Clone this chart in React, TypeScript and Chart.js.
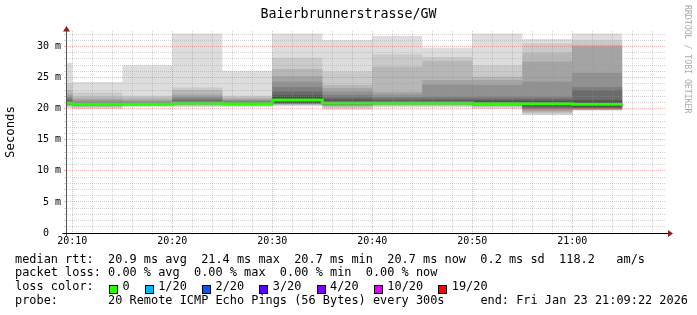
import React, { useEffect, useRef } from 'react';
import { Chart, registerables } from 'chart.js';

Chart.register(...registerables);

// ---------- texts ----------
const TITLE = 'Baierbrunnerstrasse/GW';
const Y_TITLE = 'Seconds';
const WATERMARK = 'RRDTOOL / TOBI OETIKER';

// ---------- time axis ----------
const windowStart = '20:09:22';
const windowEnd = '21:09:22';
const binStarts = ['20:09:22', '20:10', '20:15', '20:20', '20:25', '20:30', '20:35', '20:40', '20:45', '20:50', '20:55', '21:00'];
const lastBinEnd = '21:05';
const xTickLabels = ['20:10', '20:20', '20:30', '20:40', '20:50', '21:00'];

// ---------- sorted RTTs (ms) of the 20 pings in each 5-minute bin ----------
const p2009 = [20.1, 20.3, 20.45, 20.55, 20.62, 20.68, 20.72, 20.76, 20.8, 20.85, 21.0, 21.1, 21.25, 21.45, 21.7, 22.0, 22.4, 23.0, 24.1, 27.4];
const p2010 = [19.9, 20.15, 20.3, 20.4, 20.5, 20.55, 20.6, 20.64, 20.67, 20.69, 20.72, 20.76, 20.82, 20.9, 21.05, 21.3, 21.6, 21.95, 22.6, 24.3];
const p2015 = [20.25, 20.4, 20.5, 20.55, 20.6, 20.63, 20.66, 20.68, 20.69, 20.7, 20.72, 20.76, 20.82, 20.9, 21.0, 21.2, 21.45, 21.8, 22.1, 27.0];
const p2020 = [20.25, 20.4, 20.5, 20.6, 20.7, 20.76, 20.8, 20.84, 20.87, 20.89, 20.93, 21.0, 21.2, 21.4, 21.7, 21.95, 22.3, 23.0, 23.4, 32.1];
const p2025 = [20.25, 20.4, 20.5, 20.55, 20.62, 20.67, 20.7, 20.74, 20.77, 20.79, 20.83, 20.88, 20.95, 21.05, 21.2, 21.4, 21.6, 21.8, 22.1, 26.1];
const p2030 = [20.4, 20.55, 20.65, 20.72, 20.78, 20.83, 20.87, 20.9, 21.0, 21.2, 21.6, 21.85, 22.2, 22.75, 23.45, 24.35, 25.2, 26.4, 28.2, 32.1];
const p2035 = [19.8, 20.1, 20.3, 20.45, 20.55, 20.65, 20.72, 20.78, 20.83, 20.88, 21.0, 21.25, 21.5, 21.8, 22.2, 22.75, 23.3, 23.8, 26.0, 31.05];
const p2040 = [20.2, 20.4, 20.5, 20.6, 20.68, 20.74, 20.79, 20.83, 20.86, 20.88, 20.95, 21.1, 21.3, 21.6, 21.9, 22.3, 22.7, 26.76, 28.75, 31.7];
const p2045 = [20.2, 20.4, 20.5, 20.6, 20.68, 20.74, 20.79, 20.83, 20.86, 20.88, 20.95, 21.15, 21.35, 21.6, 21.95, 23.9, 24.6, 27.7, 28.3, 29.8];
const p2050 = [19.9, 20.2, 20.35, 20.45, 20.55, 20.62, 20.68, 20.73, 20.76, 20.78, 20.85, 21.1, 21.35, 21.6, 21.95, 23.8, 24.6, 25.15, 27.0, 32.1];
const p2055 = [19.0, 19.2, 19.4, 19.6, 19.8, 20.0, 20.15, 20.35, 20.55, 20.7, 20.95, 21.1, 21.3, 21.6, 21.95, 24.35, 27.6, 29.0, 30.5, 31.2];
const p2100 = [19.7, 19.75, 19.8, 19.85, 19.9, 20.0, 20.1, 20.25, 20.4, 20.55, 20.85, 21.1, 21.4, 23.0, 23.5, 25.8, 30.0, 30.3, 31.0, 32.1];
const binPings = [p2009, p2010, p2015, p2020, p2025, p2030, p2035, p2040, p2045, p2050, p2055, p2100];

// median RTT (ms) per bin
const medianRtt = [20.9, 20.7, 20.7, 20.9, 20.8, 21.4, 20.9, 20.9, 20.9, 20.8, 20.8, 20.7];

// y axis
const yMax = 32.5;
const yLabelStep = 5;

// ---------- legend ----------
const legendMedian = 'median rtt:  20.9 ms avg  21.4 ms max  20.7 ms min  20.7 ms now  0.2 ms sd  118.2   am/s';
const legendLoss = 'packet loss: 0.00 % avg  0.00 % max  0.00 % min  0.00 % now';
const legendLossTitle = 'loss color:';
const lossLabels = ['0', '1/20', '2/20', '3/20', '4/20', '10/20', '19/20'];
const lossColors = ['#26ff00', '#00b8ff', '#0059ff', '#5e00ff', '#7e00ff', '#dd00ff', '#ff0000'];
const legendProbe = 'probe:       20 Remote ICMP Echo Pings (56 Bytes) every 300s';
const legendEnd = 'end: Fri Jan 23 21:09:22 2026';

// ---------- styling ----------
const MONO = '"DejaVu Sans Mono", monospace';
const smokeShades = ['#dddddd', '#cacaca', '#b7b7b7', '#a4a4a4', '#919191', '#7e7e7e', '#6b6b6b', '#585858', '#454545', '#323232'];
const MINOR_GRID = 'rgba(150,150,150,0.4)';
const MAJOR_GRID = 'rgba(225,70,70,0.4)';
const ARROW = '#8a1f1f';

const CH = 7.16; // legend character advance
const LEG_X = 15;

function toMin(t: string): number {
  const [h, m, s] = t.split(':').map(Number);
  return h * 60 + m + (s || 0) / 60 - 20 * 60;
}

const axesPlugin = {
  id: 'rrdAxes',
  afterDraw(chart: any) {
    const { ctx, chartArea } = chart;
    const { left, right, top, bottom } = chartArea;
    const ax = Math.round(left) + 0.5;
    const ay = Math.round(bottom) + 0.5;
    ctx.save();
    ctx.setLineDash([]);
    ctx.lineWidth = 1;
    // y axis
    ctx.strokeStyle = '#555555';
    ctx.beginPath();
    ctx.moveTo(ax, ay + 3);
    ctx.lineTo(ax, top - 1);
    ctx.stroke();
    // x axis
    ctx.strokeStyle = '#000000';
    ctx.beginPath();
    ctx.moveTo(ax - 4, ay);
    ctx.lineTo(right + 3, ay);
    ctx.stroke();
    // arrows
    ctx.fillStyle = ARROW;
    ctx.beginPath();
    ctx.moveTo(ax, top - 5);
    ctx.lineTo(ax - 3.5, top + 0.5);
    ctx.lineTo(ax + 3.5, top + 0.5);
    ctx.closePath();
    ctx.fill();
    ctx.beginPath();
    ctx.moveTo(right + 7, ay);
    ctx.lineTo(right + 2, ay - 3.5);
    ctx.lineTo(right + 2, ay + 3.5);
    ctx.closePath();
    ctx.fill();
    ctx.restore();
  },
};

export default function App() {
  const canvasRef = useRef<HTMLCanvasElement | null>(null);

  useEffect(() => {
    const canvas = canvasRef.current;
    if (!canvas) return;

    const xs = [...binStarts.map(toMin), toMin(lastBinEnd)];
    const series = (vals: number[]) => xs.map((x, i) => ({ x, y: vals[Math.min(i, vals.length - 1)] }));
    const rank = (r: number) => series(binPings.map((p) => p[r]));

    const datasets: any[] = [];
    for (let k = 0; k < 10; k++) {
      const lowIdx = datasets.length;
      datasets.push({
        data: rank(k),
        borderWidth: 0,
        borderColor: 'rgba(0,0,0,0)',
        pointRadius: 0,
        fill: false,
        stepped: 'before',
        order: 100 - k,
      });
      datasets.push({
        data: rank(19 - k),
        borderWidth: 0,
        borderColor: 'rgba(0,0,0,0)',
        backgroundColor: smokeShades[k],
        pointRadius: 0,
        fill: lowIdx,
        stepped: 'before',
        order: 100 - k,
      });
    }
    datasets.push({
      data: series(medianRtt),
      borderColor: lossColors[0],
      borderWidth: 3,
      borderCapStyle: 'butt',
      borderJoinStyle: 'miter',
      pointRadius: 0,
      fill: false,
      stepped: 'before',
      order: 0,
    });

    const xMajor = xTickLabels.map(toMin);
    const xStart = toMin(windowStart);
    const xEnd = toMin(windowEnd);

    const chart = new Chart(canvas, {
      type: 'line',
      data: { datasets },
      plugins: [axesPlugin],
      options: {
        animation: false,
        responsive: false,
        devicePixelRatio: 1,
        events: [],
        layout: { padding: { left: 0, right: 31, top: 31, bottom: 62 } },
        plugins: {
          legend: { display: false },
          title: { display: false },
          tooltip: { enabled: false },
          filler: { propagate: false },
        },
        scales: {
          x: {
            type: 'linear',
            min: xStart,
            max: xEnd,
            afterBuildTicks: (s: any) => {
              const t: any[] = [];
              for (let v = Math.ceil(xStart / 2) * 2; v <= xEnd; v += 2) t.push({ value: v });
              s.ticks = t;
            },
            afterFit: (s: any) => {
              s.height = 20;
            },
            ticks: {
              autoSkip: false,
              maxRotation: 0,
              minRotation: 0,
              padding: 0,
              color: '#000',
              font: { family: MONO, size: 10 },
              callback: (v: any) => {
                const i = xMajor.findIndex((m) => Math.abs(m - Number(v)) < 1e-6);
                return i >= 0 ? xTickLabels[i] : '';
              },
            },
            grid: {
              z: 1,
              tickLength: 2,
              color: (c: any) => (c.tick && Math.round(c.tick.value) % 10 === 0 ? MAJOR_GRID : MINOR_GRID),
              tickColor: (c: any) => (c.tick && Math.round(c.tick.value) % 10 === 0 ? MAJOR_GRID : MINOR_GRID),
            },
            border: { display: false, dash: [1, 1] },
          },
          y: {
            type: 'linear',
            min: 0,
            max: yMax,
            afterBuildTicks: (s: any) => {
              const t: any[] = [];
              for (let v = 0; v <= Math.floor(yMax); v++) t.push({ value: v });
              s.ticks = t;
            },
            afterFit: (s: any) => {
              s.width = 66;
            },
            ticks: {
              autoSkip: false,
              padding: 3,
              color: '#000',
              font: { family: MONO, size: 10 },
              callback: (v: any) => {
                const n = Number(v);
                if (n % yLabelStep !== 0) return '';
                return n === 0 ? '0  ' : `${n} m`;
              },
            },
            grid: {
              z: 1,
              tickLength: 2,
              color: (c: any) => (c.tick && c.tick.value % yLabelStep === 0 ? MAJOR_GRID : MINOR_GRID),
              tickColor: (c: any) => (c.tick && c.tick.value % yLabelStep === 0 ? MAJOR_GRID : MINOR_GRID),
            },
            border: { display: false, dash: [1, 1] },
            title: {
              display: true,
              text: Y_TITLE,
              color: '#000',
              font: { family: MONO, size: 12.3 },
              padding: { top: 3, bottom: 0 },
            },
          },
        },
      },
    } as any);

    return () => chart.destroy();
  }, []);

  // loss color boxes
  const lossItems: { col: number; label: string; color: string }[] = [];
  let col = 13;
  lossLabels.forEach((label, i) => {
    lossItems.push({ col, label, color: lossColors[i] });
    col += 2 + label.length + 2;
  });

  const legFont: React.CSSProperties = {
    position: 'absolute',
    fontFamily: MONO,
    fontSize: 11.9,
    lineHeight: '11.9px',
    whiteSpace: 'pre',
    color: '#000',
    margin: 0,
  };
  const baseTop = (baseline: number) => baseline - 10.07;

  return (
    <div style={{ position: 'absolute', left: 0, top: 0, width: 697, height: 315, background: '#fff', overflow: 'hidden' }}>
      <canvas ref={canvasRef} width={697} height={315} style={{ position: 'absolute', left: 0, top: 0, display: 'block' }} />
      <div
        style={{
          position: 'absolute',
          left: 0,
          width: 697,
          top: 7.05,
          textAlign: 'center',
          fontFamily: MONO,
          fontSize: 13.3,
          lineHeight: '13.3px',
          whiteSpace: 'pre',
          color: '#000',
        }}
      >
        {TITLE}
      </div>
      <div
        style={{
          position: 'absolute',
          left: 683,
          top: 5,
          width: 10,
          writingMode: 'vertical-rl',
          fontFamily: MONO,
          fontSize: 8.2,
          lineHeight: '10px',
          whiteSpace: 'pre',
          color: '#aaaaaa',
        }}
      >
        {WATERMARK}
      </div>
      <div style={{ ...legFont, left: LEG_X, top: baseTop(263.7) }}>{legendMedian}</div>
      <div style={{ ...legFont, left: LEG_X, top: baseTop(277.4) }}>{legendLoss}</div>
      <div style={{ ...legFont, left: LEG_X, top: baseTop(291.1) }}>{legendLossTitle}</div>
      {lossItems.map((it) => (
        <React.Fragment key={it.label}>
          <div
            style={{
              position: 'absolute',
              left: LEG_X + it.col * CH + 1,
              top: 285,
              width: 7,
              height: 7,
              background: it.color,
              border: '1px solid #000',
            }}
          />
          <div style={{ ...legFont, left: LEG_X + (it.col + 2) * CH, top: baseTop(291.1) }}>{it.label}</div>
        </React.Fragment>
      ))}
      <div style={{ ...legFont, left: LEG_X, top: baseTop(305) }}>{legendProbe}</div>
      <div style={{ ...legFont, left: LEG_X + 65 * CH, top: baseTop(305) }}>{legendEnd}</div>
    </div>
  );
}
